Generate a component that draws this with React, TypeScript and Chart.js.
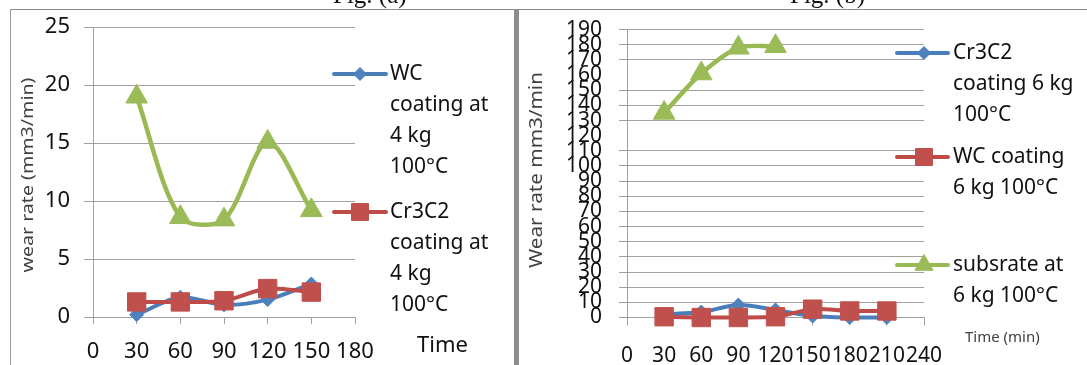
import React, { useEffect, useRef } from 'react';
import { Chart, registerables } from 'chart.js';

Chart.register(...registerables);

// ---------- Fig. (a) data ----------
const timesA = [30, 60, 90, 120, 150];
const wcCoating4kg = [0.2, 1.7, 1.05, 1.5, 2.85];
const cr3c2Coating4kg = [1.3, 1.3, 1.4, 2.45, 2.15];
const substrate4kg = [19.0, 8.6, 8.4, 15.1, 9.2];
const xTicksA = [0, 30, 60, 90, 120, 150, 180];
const yTicksA = [0, 5, 10, 15, 20, 25];
const legendA = [
  ['WC', 'coating at', '4 kg', '100°C'],
  ['Cr3C2', 'coating at', '4 kg', '100°C'],
];

// ---------- Fig. (b) data ----------
const timesB = [30, 60, 90, 120, 150, 180, 210];
const cr3c2Coating6kg = [2, 3.6, 8.2, 5, 1, 0, 0];
const wcCoating6kg = [0.5, 0, 0, 0.5, 5.5, 4.3, 4.3];
const substrateTimesB = [30, 60, 90, 120];
const substrate6kg = [135, 161, 178, 179];
const xTicksB = [0, 30, 60, 90, 120, 150, 180, 210, 240];
const yTicksB = [0, 10, 20, 30, 40, 50, 60, 70, 80, 90, 100, 110, 120, 130, 140, 150, 160, 170, 180, 190];
const hiddenGridB = [120, 160];
const legendB = [
  ['Cr3C2', 'coating 6 kg', '100°C'],
  ['WC coating', '6 kg 100°C'],
  ['subsrate at', '6 kg 100°C'],
];

const BLUE = '#4A7EBB';
const BLUE_M = '#4F81BD';
const RED = '#BE4B48';
const RED_M = '#C0504D';
const GREEN = '#98B954';
const GREEN_M = '#9BBB59';
const GRID = '#a0a0a0';
const FONT = "'Noto Sans', 'DejaVu Sans', sans-serif";

function pts(xs: number[], ys: number[]) {
  return xs.map((x, i) => ({ x, y: ys[i] }));
}

function drawMarker(ctx: CanvasRenderingContext2D, style: string, x: number, y: number, r: number, color: string) {
  ctx.save();
  ctx.fillStyle = color;
  ctx.strokeStyle = color;
  ctx.lineWidth = 1;
  ctx.beginPath();
  if (style === 'rectRot') {
    ctx.moveTo(x, y - r);
    ctx.lineTo(x + r, y);
    ctx.lineTo(x, y + r);
    ctx.lineTo(x - r, y);
  } else if (style === 'rect') {
    const s = r * Math.SQRT1_2;
    ctx.rect(x - s, y - s, 2 * s, 2 * s);
  } else {
    ctx.moveTo(x, y - r);
    ctx.lineTo(x + r * 0.866, y + r / 2);
    ctx.lineTo(x - r * 0.866, y + r / 2);
  }
  ctx.closePath();
  ctx.fill();
  ctx.stroke();
  ctx.restore();
}

type OverlaySpec = {
  legend: {
    x1: number; x2: number; mx: number; tx: number; spacing: number; font: string;
    entries: { ds: number; y: number; lines: string[]; r: number }[];
  };
  yTitle: { text: string; x: number; y: number; font: string; width: number; color: string };
  xTitle: { text: string; x: number; y: number; font: string; color: string };
};

function makeOverlay(spec: OverlaySpec) {
  return {
    id: 'overlay',
    afterDraw(chart: any) {
      const ctx: CanvasRenderingContext2D = chart.ctx;
      const L = spec.legend;
      for (const e of L.entries) {
        const ds = chart.data.datasets[e.ds];
        ctx.save();
        ctx.strokeStyle = ds.borderColor;
        ctx.lineWidth = 4;
        ctx.lineCap = 'round';
        ctx.beginPath();
        ctx.moveTo(L.x1, e.y);
        ctx.lineTo(L.x2, e.y);
        ctx.stroke();
        ctx.restore();
        drawMarker(ctx, ds.pointStyle, L.mx, e.y, e.r, ds.pointBackgroundColor);
        ctx.save();
        ctx.fillStyle = '#111';
        ctx.font = L.font;
        ctx.textAlign = 'left';
        ctx.textBaseline = 'middle';
        e.lines.forEach((line, i) => ctx.fillText(line, L.tx, e.y + i * L.spacing));
        ctx.restore();
      }
      const Y = spec.yTitle;
      ctx.save();
      ctx.translate(Y.x, Y.y);
      ctx.rotate(-Math.PI / 2);
      ctx.font = Y.font;
      const w = ctx.measureText(Y.text).width;
      ctx.scale(Y.width / w, 1);
      ctx.fillStyle = Y.color;
      ctx.textAlign = 'center';
      ctx.textBaseline = 'middle';
      ctx.fillText(Y.text, 0, 0);
      ctx.restore();
      const X = spec.xTitle;
      ctx.save();
      ctx.font = X.font;
      ctx.fillStyle = X.color;
      ctx.textAlign = 'left';
      ctx.textBaseline = 'middle';
      ctx.fillText(X.text, X.x, X.y);
      ctx.restore();
    },
  };
}

function lineDs(label: string, data: any[], line: string, marker: string, style: string, r: number, order: number, width: number) {
  return {
    label,
    data,
    borderColor: line,
    backgroundColor: marker,
    pointBackgroundColor: marker,
    pointBorderColor: marker,
    pointBorderWidth: 1,
    borderWidth: width,
    pointStyle: style,
    pointRadius: r,
    pointHoverRadius: r,
    tension: 0.3,
    clip: false,
    order,
  };
}

function buildA(): any {
  return {
    type: 'line',
    data: {
      datasets: [
        lineDs('WC coating at 4 kg 100°C', pts(timesA, wcCoating4kg), BLUE, BLUE_M, 'rectRot', 7, 3, 4),
        lineDs('Cr3C2 coating at 4 kg 100°C', pts(timesA, cr3c2Coating4kg), RED, RED_M, 'rect', 13, 2, 4),
        lineDs('substrate at 4 kg 100°C', pts(timesA, substrate4kg), GREEN, GREEN_M, 'triangle', 12.5, 1, 4.5),
      ],
    },
    options: {
      responsive: false,
      maintainAspectRatio: false,
      animation: false,
      events: [],
      layout: { padding: { left: 0, top: 25, right: 159, bottom: 0 } },
      plugins: { legend: { display: false }, tooltip: { enabled: false } },
      scales: {
        x: {
          type: 'linear',
          min: 0,
          max: 180,
          afterBuildTicks: (s: any) => { s.ticks = xTicksA.map((v) => ({ value: v })); },
          afterFit: (s: any) => { s.height = 48; },
          grid: { drawOnChartArea: false, drawTicks: true, tickLength: 7, color: GRID },
          border: { display: true, color: GRID },
          ticks: { autoSkip: false, maxRotation: 0, minRotation: 0, padding: 15, color: '#111', font: { family: FONT, size: 22 } },
        },
        y: {
          type: 'linear',
          min: 0,
          max: 25,
          afterBuildTicks: (s: any) => { s.ticks = yTicksA.map((v) => ({ value: v })); },
          afterFit: (s: any) => { s.width = 93; },
          grid: { color: GRID, tickLength: 9 },
          border: { color: GRID },
          ticks: { autoSkip: false, padding: 14, color: '#111', font: { family: FONT, size: 22 } },
        },
      },
    },
    plugins: [
      makeOverlay({
        legend: {
          x1: 334, x2: 386, mx: 360, tx: 390, spacing: 31, font: `21px ${FONT}`,
          entries: [
            { ds: 0, y: 74, lines: legendA[0], r: 6.5 },
            { ds: 1, y: 212, lines: legendA[1], r: 12 },
          ],
        },
        yTitle: { text: 'wear rate (mm3/min)', x: 28, y: 175, font: `16px ${FONT}`, width: 195, color: '#404040' },
        xTitle: { text: 'Time', x: 417, y: 346, font: `22px ${FONT}`, color: '#111' },
      }),
    ],
  };
}

function buildB(): any {
  return {
    type: 'line',
    data: {
      datasets: [
        lineDs('Cr3C2 coating 6 kg 100°C', pts(timesB, cr3c2Coating6kg), BLUE, BLUE_M, 'rectRot', 7, 3, 4),
        lineDs('WC coating 6 kg 100°C', pts(timesB, wcCoating6kg), RED, RED_M, 'rect', 13, 2, 4),
        lineDs('subsrate at 6 kg 100°C', pts(substrateTimesB, substrate6kg), GREEN, GREEN_M, 'triangle', 12.5, 1, 4.5),
      ],
    },
    options: {
      responsive: false,
      maintainAspectRatio: false,
      animation: false,
      events: [],
      layout: { padding: { left: 0, top: 25, right: 163, bottom: 0 } },
      plugins: { legend: { display: false }, tooltip: { enabled: false } },
      scales: {
        x: {
          type: 'linear',
          min: 0,
          max: 240,
          afterBuildTicks: (s: any) => { s.ticks = xTicksB.map((v) => ({ value: v })); },
          afterFit: (s: any) => { s.height = 47.5; },
          grid: { drawOnChartArea: false, drawTicks: true, tickLength: 8, color: GRID },
          border: { display: true, color: GRID },
          ticks: { autoSkip: false, maxRotation: 0, minRotation: 0, padding: 18, color: '#111', font: { family: FONT, size: 21 } },
        },
        y: {
          type: 'linear',
          min: 0,
          max: 190,
          afterBuildTicks: (s: any) => { s.ticks = yTicksB.map((v) => ({ value: v })); },
          afterFit: (s: any) => { s.width = 108; },
          grid: {
            color: (c: any) => (c.tick && hiddenGridB.includes(c.tick.value) ? 'rgba(0,0,0,0)' : GRID),
            tickLength: 8,
          },
          border: { color: GRID },
          ticks: { autoSkip: false, padding: 17, color: '#111', font: { family: FONT, size: 21 } },
        },
      },
    },
    plugins: [
      makeOverlay({
        legend: {
          x1: 378, x2: 429, mx: 405, tx: 434, spacing: 31, font: `21px ${FONT}`,
          entries: [
            { ds: 0, y: 53, lines: legendB[0], r: 6.5 },
            { ds: 1, y: 157, lines: legendB[1], r: 12 },
            { ds: 2, y: 265, lines: legendB[2], r: 10.5 },
          ],
        },
        yTitle: { text: 'Wear rate mm3/min', x: 18, y: 170, font: `18px ${FONT}`, width: 196, color: '#404040' },
        xTitle: { text: 'Time (min)', x: 446, y: 338, font: `15px ${FONT}`, color: '#404040' },
      }),
    ],
  };
}

function ChartCanvas({ build, left, width }: { build: () => any; left: number; width: number }) {
  const ref = useRef<HTMLCanvasElement>(null);
  useEffect(() => {
    const chart = new Chart(ref.current as HTMLCanvasElement, build());
    return () => chart.destroy();
  }, []);
  return (
    <canvas
      ref={ref}
      width={width}
      height={365}
      style={{ position: 'absolute', left, top: 0, width, height: 365 }}
    />
  );
}

export default function App() {
  const fig: React.CSSProperties = {
    position: 'absolute',
    top: -18,
    fontFamily: "'Liberation Serif', 'DejaVu Serif', serif",
    fontSize: 25,
    lineHeight: '25px',
    whiteSpace: 'nowrap',
    color: '#111',
  };
  return (
    <div style={{ position: 'absolute', left: 0, top: 0, width: 1087, height: 365, overflow: 'hidden', background: '#fff' }}>
      <ChartCanvas build={buildA} left={0} width={514} />
      <ChartCanvas build={buildB} left={519} width={568} />
      <div style={{ position: 'absolute', left: 10, top: 9, width: 1077, height: 1, background: '#8c8c8c' }} />
      <div style={{ position: 'absolute', left: 10, top: 9, width: 1, height: 356, background: '#999' }} />
      <div style={{ position: 'absolute', left: 514, top: 9, width: 5, height: 356, background: '#8c8c8c' }} />
      <div style={{ ...fig, left: 333 }}>Fig. (a)</div>
      <div style={{ ...fig, left: 790 }}>Fig. (b)</div>
    </div>
  );
}
